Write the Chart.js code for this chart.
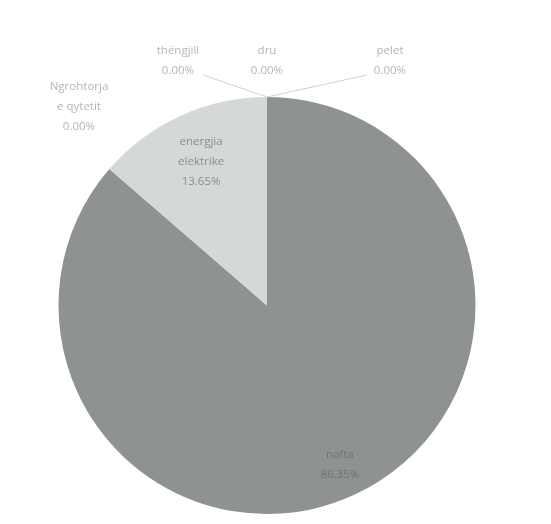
<!DOCTYPE html>
<html>
<head>
<meta charset="utf-8">
<script src="https://cdn.jsdelivr.net/npm/chart.js@4/dist/chart.umd.min.js"></script>
<style>
  html, body { margin: 0; padding: 0; background: #fff; }
  #wrap { width: 551px; height: 524px; }
</style>
</head>
<body>
<div id="wrap"><canvas id="chart" width="551" height="524"></canvas></div>
<script>
'use strict';
//chart data
let categories = ['nafta', 'energjia elektrike', 'Ngrohtorja e qytetit', 'thëngjill', 'dru', 'pelet'];
let percents = [86.35, 13.65, 0, 0, 0, 0];
let sliceColors = ['#8e9391', '#d5d8d8', '#b9bdbc', '#b9bdbc', '#b9bdbc', '#b9bdbc'];

//label text lines for each slice (wrapped like the original)
let labelLines = [
  ['nafta'],
  ['energjia', 'elektrike'],
  ['Ngrohtorja', 'e qytetit'],
  ['thëngjill'],
  ['dru'],
  ['pelet']
];

//how far out the inside labels sit (fraction of radius)
let insideRadius = { 0: 0.84, 1: 0.76 };

//offsets of the zero-slice labels from the top of the pie, plus leader line ends
let zeroLabelOffsets = {
  2: { dx: -188, dy: 30, line: false },
  3: { dx: -89, dy: -26, line: true, lx: -64, ly: -22 },
  4: { dx: 0, dy: -26, line: false },
  5: { dx: 123, dy: -26, line: true, lx: 100, ly: -22 }
};

//plugin that writes the data labels
let pieLabels = {
  id: 'pieLabels',
  afterDatasetsDraw(chart) {
    let ctx = chart.ctx;
    let meta = chart.getDatasetMeta(0);
    ctx.save();
    ctx.textAlign = 'center';
    ctx.textBaseline = 'middle';
    ctx.font = '11.5px "Open Sans"';
    let lineH = 20;
    meta.data.forEach(function (arc, i) {
      let p = arc.getProps(['x', 'y', 'startAngle', 'endAngle', 'outerRadius'], true);
      let lines = labelLines[i].concat([percents[i].toFixed(2) + '%']);
      if (percents[i] > 0) {
        let mid = (p.startAngle + p.endAngle) / 2;
        let r = p.outerRadius * insideRadius[i];
        let cx = p.x + Math.cos(mid) * r;
        let cy = p.y + Math.sin(mid) * r;
        ctx.fillStyle = i === 0 ? '#6f7472' : '#8a8d8d';
        let top = cy - (lines.length - 1) * lineH / 2;
        lines.forEach(function (t, k) { ctx.fillText(t, cx, top + k * lineH); });
      } else {
        let ax = p.x + Math.cos(p.startAngle) * p.outerRadius;
        let ay = p.y + Math.sin(p.startAngle) * p.outerRadius;
        let o = zeroLabelOffsets[i];
        let cx = ax + o.dx;
        let top = ay + o.dy - (lines.length - 1) * lineH;
        ctx.fillStyle = '#b4b6b6';
        lines.forEach(function (t, k) { ctx.fillText(t, cx, top + k * lineH); });
        if (o.line) {
          ctx.strokeStyle = '#d0d2d2';
          ctx.lineWidth = 1;
          ctx.beginPath();
          ctx.moveTo(ax + o.lx, ay + o.ly);
          ctx.lineTo(ax, ay);
          ctx.stroke();
        }
      }
    });
    ctx.restore();
  }
};

let ctx = document.getElementById('chart').getContext('2d');
new Chart(ctx, {
  type: 'pie',
  data: {
    labels: categories,
    datasets: [{
      data: percents,
      backgroundColor: sliceColors,
      borderWidth: 0
    }]
  },
  options: {
    responsive: false,
    animation: false,
    layout: {
      padding: { top: 97, bottom: 10, left: 0, right: 17 }
    },
    plugins: {
      legend: { display: false },
      tooltip: { enabled: false }
    }
  },
  plugins: [pieLabels]
});
</script>
</body>
</html>
